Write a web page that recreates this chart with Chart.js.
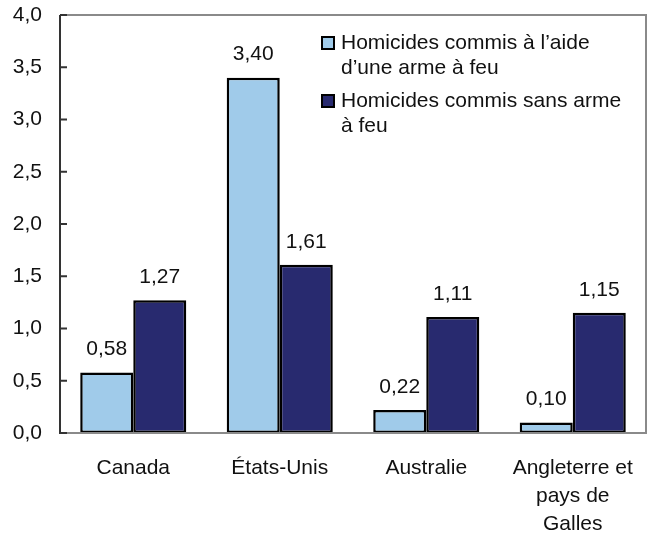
<!DOCTYPE html>
<html>
<head>
<meta charset="utf-8">
<script src="https://cdn.jsdelivr.net/npm/chart.js@4"></script>
<style>
  html, body { margin: 0; padding: 0; background: #fff; }
  #wrap { width: 649px; height: 533px; }
</style>
</head>
<body>
<div id="wrap"><canvas id="chart" width="649" height="533"></canvas></div>
<script>
// data
const categories = ["Canada", "États-Unis", "Australie", ["Angleterre et", "pays de", "Galles"]];
const withFirearm = [0.58, 3.40, 0.22, 0.10];
const withoutFirearm = [1.27, 1.61, 1.11, 1.15];
const seriesNames = ["Homicides commis à l’aide d’une arme à feu", "Homicides commis sans arme à feu"];
const legendLines = [
  ["Homicides commis à l’aide", "d’une arme à feu"],
  ["Homicides commis sans arme", "à feu"]
];
const yTicks = [0, 0.5, 1, 1.5, 2, 2.5, 3, 3.5, 4];

const FONT = "'Liberation Sans', Arial, Helvetica, sans-serif";
const FSIZE = 21;
const LIGHT = "#a0cbea";
const DARK = "#282a6f";

const fmt = (v, d) => v.toFixed(d).replace(".", ",");

// value labels above each bar
const valueLabels = {
  id: "valueLabels",
  afterDatasetsDraw(chart) {
    const ctx = chart.ctx;
    ctx.save();
    ctx.font = FSIZE + "px " + FONT;
    ctx.fillStyle = "#111";
    ctx.textAlign = "center";
    ctx.textBaseline = "middle";
    chart.data.datasets.forEach((ds, i) => {
      chart.getDatasetMeta(i).data.forEach((bar, j) => {
        ctx.fillText(fmt(ds.data[j], 2), bar.x, bar.y - 23);
      });
    });
    ctx.restore();
  }
};

// frame: dark left axis with inward ticks, grey top/right/bottom
const frame = {
  id: "frame",
  afterDraw(chart) {
    const ctx = chart.ctx;
    const a = chart.chartArea;
    const y = chart.scales.y;
    ctx.save();
    ctx.strokeStyle = "#8a8a8a";
    ctx.lineWidth = 2;
    ctx.beginPath();
    ctx.moveTo(a.left, a.top);
    ctx.lineTo(a.right, a.top);
    ctx.lineTo(a.right, a.bottom);
    ctx.lineTo(a.left, a.bottom);
    ctx.stroke();
    ctx.strokeStyle = "#333";
    ctx.beginPath();
    ctx.moveTo(a.left, a.top);
    ctx.lineTo(a.left, a.bottom + 1);
    yTicks.forEach(v => {
      const py = y.getPixelForValue(v);
      ctx.moveTo(a.left, py);
      ctx.lineTo(a.left + 7, py);
    });
    ctx.stroke();
    ctx.restore();
  }
};

// legend drawn inside the plot, top right
const innerLegend = {
  id: "innerLegend",
  afterDraw(chart) {
    const ctx = chart.ctx;
    const a = chart.chartArea;
    const x0 = a.left + 262;
    let ty = a.top + 28;
    ctx.save();
    ctx.font = FSIZE + "px " + FONT;
    ctx.textBaseline = "middle";
    ctx.textAlign = "left";
    chart.data.datasets.forEach((ds, i) => {
      ctx.fillStyle = ds.backgroundColor;
      ctx.fillRect(x0, ty - 6, 12, 12);
      ctx.strokeStyle = "#000";
      ctx.lineWidth = 2;
      ctx.strokeRect(x0, ty - 6, 12, 12);
      ctx.fillStyle = "#111";
      legendLines[i].forEach((line, k) => {
        ctx.fillText(line, x0 + 19, ty + k * 25);
      });
      ty += legendLines[i].length * 25 + 8;
    });
    ctx.restore();
  }
};

new Chart(document.getElementById("chart"), {
  type: "bar",
  data: {
    labels: categories,
    datasets: [
      { label: seriesNames[0], data: withFirearm, backgroundColor: LIGHT },
      { label: seriesNames[1], data: withoutFirearm, backgroundColor: DARK }
    ]
  },
  options: {
    responsive: false,
    animation: false,
    events: [],
    layout: { padding: { top: 15, right: 3, left: 0, bottom: 0 } },
    datasets: {
      bar: {
        borderColor: "#000",
        borderWidth: 2.5,
        borderSkipped: false,
        categoryPercentage: 0.724,
        barPercentage: 1
      }
    },
    plugins: {
      legend: { display: false },
      tooltip: { enabled: false }
    },
    scales: {
      x: {
        grid: { display: false },
        border: { display: false },
        ticks: {
          color: "#111",
          padding: 13,
          maxRotation: 0,
          autoSkip: false,
          font: { family: FONT, size: FSIZE, lineHeight: 1.33 }
        },
        afterFit(scale) {
          scale.height = 100;
          scale.paddingLeft = 0;
          scale.paddingRight = 0;
        }
      },
      y: {
        min: 0,
        max: 4,
        afterBuildTicks(scale) { scale.ticks = yTicks.map(v => ({ value: v })); },
        grid: { display: false },
        border: { display: false },
        ticks: {
          color: "#111",
          padding: 10,
          callback: v => fmt(v, 1),
          font: { family: FONT, size: FSIZE }
        },
        afterFit(scale) {
          scale.width = 60;
          scale.paddingTop = 0;
          scale.paddingBottom = 0;
        }
      }
    }
  },
  plugins: [valueLabels, frame, innerLegend]
});
</script>
</body>
</html>
